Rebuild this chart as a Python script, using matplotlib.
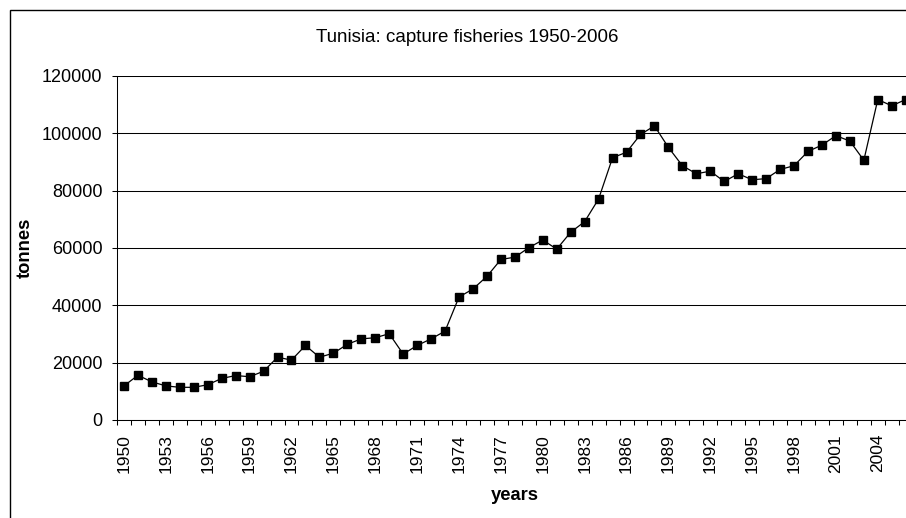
import numpy as np
import matplotlib
matplotlib.use('Agg')
import matplotlib.pyplot as plt
from matplotlib.patches import Rectangle

plt.rcParams['font.family'] = ['Liberation Sans', 'DejaVu Sans']

# Data (tonnes per year)
years = list(range(1950, 2007))
catch = [11900, 15600, 13300, 11900, 11400, 11400, 12300, 14500, 15500, 15100,
         17000, 21900, 20900, 26000, 21900, 23300, 26400, 28300, 28700, 30100,
         23000, 26000, 28300, 31000, 42900, 45700, 50100, 56000, 56800, 60100,
         62800, 59600, 65500, 69200, 77100, 91500, 93400, 99600, 102600, 95100,
         88700, 85900, 86800, 83200, 85900, 83800, 84200, 87400, 88700, 93700,
         95900, 99200, 97300, 90600, 111800, 109600, 111800]
y_ticks = [0, 20000, 40000, 60000, 80000, 100000, 120000]

W, H = 906, 518
fig = plt.figure(figsize=(W / 100, H / 100), dpi=100)

# plot area in pixels (it runs past the right edge, like the cropped original)
left, right, top, bottom = 117, 912.7, 76, 420
ax = fig.add_axes([left / W, 1 - bottom / H, (right - left) / W, (bottom - top) / H])

x = np.arange(len(years))
ax.plot(x, catch, color='black', linewidth=0.9, marker='s', markersize=5.2,
        markerfacecolor='black', markeredgecolor='black', clip_on=False, zorder=3)

ax.set_xlim(-0.5, len(years) - 0.5)
ax.set_ylim(0, 120000)

# category axis: ticks between categories, labels every third year
ax.set_xticks(x[::3])
ax.set_xticklabels([str(y) for y in years[::3]], rotation=90, fontsize=12.5)
ax.set_xticks(np.arange(-0.5, len(years), 1.0), minor=True)
ax.tick_params(axis='x', which='major', length=0, pad=10)
ax.tick_params(axis='x', which='minor', length=3.5, width=0.75, direction='out')

ax.set_yticks(y_ticks)
ax.set_yticklabels([str(v) for v in y_ticks], fontsize=13)
ax.tick_params(axis='y', length=3.5, width=0.75, pad=7, direction='out')

ax.grid(True, axis='y', color='black', linewidth=0.75)
ax.set_axisbelow(True)

for side in ['top', 'right']:
    ax.spines[side].set_visible(False)
for side in ['left', 'bottom']:
    ax.spines[side].set_linewidth(0.75)
    ax.spines[side].set_color('black')

ax.set_xlabel('years', fontsize=13.2, weight='bold', va='center')
ax.xaxis.set_label_coords(0.5, (bottom - 495) / (bottom - top))
ax.set_ylabel('tonnes', fontsize=13.2, weight='bold', va='center')
ax.yaxis.set_label_coords((25 - left) / (right - left), 0.5)

fig.text(467.5 / W, 1 - 38 / H, 'Tunisia: capture fisheries 1950-2006',
         ha='center', va='center', fontsize=13.5)

# chart frame, cut off at the right and bottom as in the original
fig.patches.append(Rectangle((9.5 / W, -0.1), (925 - 9.5) / W, 1.1 - 10 / H,
                             transform=fig.transFigure, fill=False,
                             edgecolor='black', linewidth=1.0))

fig.savefig('out.png', dpi=100)
